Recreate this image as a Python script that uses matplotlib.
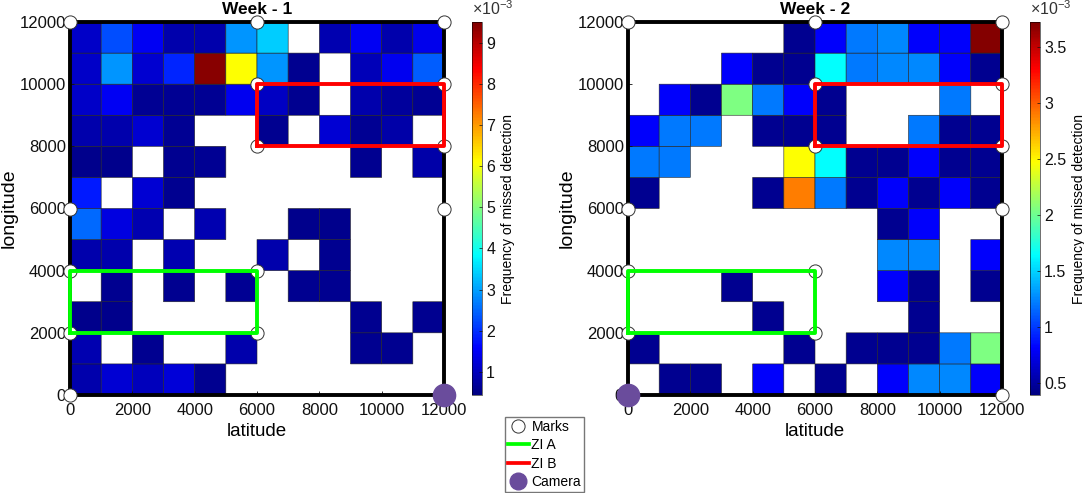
import numpy as np
import matplotlib
matplotlib.use('Agg')
import matplotlib.pyplot as plt
from matplotlib.colors import LinearSegmentedColormap
from matplotlib.lines import Line2D

plt.rcParams['font.family'] = ['Liberation Sans', 'DejaVu Sans']
plt.rcParams['mathtext.fontset'] = 'custom'
plt.rcParams['mathtext.rm'] = 'Liberation Sans'

n = np.nan

#Frequency of missed detection (x 1e-3), rows listed from the top of the map down
week1 = [
    [1.1, 2.25, 1.5, .85, .85, 2.9, 3.4, n, .9, 1.5, .85, 1.4],
    [1.1, 2.9, 1.15, 1.9, 9.4, 6.1, 2.9, .6, n, .95, 1.45, 2.4],
    [1.1, 1.5, .65, .65, .65, 1.45, 1.05, .6, n, .85, .7, .65],
    [.85, .85, 1.15, .65, n, n, .6, n, 1.2, .65, .8, n],
    [.55, .55, n, .6, .65, n, n, n, n, .6, n, .8],
    [1.8, n, 1.2, .6, n, n, n, n, n, n, n, n],
    [2.5, 1.3, .9, n, .9, n, n, .55, .55, n, n, n],
    [.85, .85, n, .9, n, n, .85, n, .6, n, n, n],
    [n, .6, n, .6, n, .65, n, .6, .6, n, n, n],
    [.55, .55, n, n, n, n, n, n, n, .6, n, .6],
    [.9, n, .6, n, n, .85, n, n, n, .6, .6, n],
    [.85, 1.2, 1.0, 1.25, .6, n, n, n, n, n, n, n],
]
week2 = [
    [n, n, n, n, n, .45, .8, 1.2, 1.25, .8, .8, 3.7],
    [n, n, n, .8, .45, .45, 1.65, 1.2, 1.25, 1.25, .8, .45],
    [n, .8, .45, 2.05, 1.2, .8, .45, n, n, n, 1.2, n],
    [.8, 1.2, 1.2, n, .45, .45, .45, n, n, 1.2, .45, .45],
    [1.2, 1.2, n, n, n, 2.47, 1.65, .45, .45, .8, .45, .45],
    [.45, n, n, n, .45, 2.9, 1.2, .45, .8, .45, .8, .45],
    [n, n, n, n, n, n, n, n, .45, .8, n, n],
    [n, n, n, n, n, n, n, n, 1.25, 1.25, n, .8],
    [n, n, n, .45, n, n, n, n, .8, .45, n, .45],
    [n, n, n, n, .45, n, n, n, n, .45, n, n],
    [.45, n, n, n, n, .45, n, .45, .45, .45, 1.2, 2.05],
    [n, .45, .45, n, .8, n, .45, n, .8, 1.25, 1.25, .8],
]

edges = np.arange(0, 13000, 1000)
axis_ticks = [0, 2000, 4000, 6000, 8000, 10000, 12000]

#Marks, the two zones and the camera
marks_x = [0, 0, 0, 0, 0, 6000, 6000, 6000, 6000, 6000, 12000, 12000, 12000, 12000, 12000]
marks_y = [0, 2000, 4000, 6000, 12000, 2000, 4000, 8000, 10000, 12000, 0, 6000, 8000, 10000, 12000]
zone_a_x = [0, 6000, 6000, 0, 0]
zone_a_y = [2000, 2000, 4000, 4000, 2000]
zone_b_x = [6000, 12000, 12000, 6000, 6000]
zone_b_y = [8000, 8000, 10000, 10000, 8000]
camera_week1 = (12000, 0)
camera_week2 = (0, 0)

ticks_week1 = [1, 2, 3, 4, 5, 6, 7, 8, 9]
ticks_week2 = [0.5, 1, 1.5, 2, 2.5, 3, 3.5]
tick_labels_week2 = ['0.5', '1', '1.5', '2', '2.5', '3', '3.5']

#MATLAB flavour of jet, pure yellow and cyan sit at the eighths
matlab_jet = LinearSegmentedColormap.from_list('matlab_jet', [
    (0, (0, 0, 0.5)), (1 / 8, (0, 0, 1)), (3 / 8, (0, 1, 1)),
    (5 / 8, (1, 1, 0)), (7 / 8, (1, 0, 0)), (1, (0.5, 0, 0))], N=256)

W = 1084
H = 493
fig = plt.figure(figsize=(W / 100, H / 100), dpi=100)


#Draw one week: heat map, marks, zones, camera and colorbar
def draw_week(values, title, left, cbar_left, vmin, vmax, camera, cticks, clabels):
    ax = fig.add_axes([left / W, 1 - 395 / H, 374 / W, 373 / H])
    data = np.ma.masked_invalid(np.array(values)[::-1])
    #pcolor leaves the empty cells out, so they get no outline
    mesh = ax.pcolor(edges, edges, data, cmap=matlab_jet, vmin=vmin, vmax=vmax,
                     edgecolors='#222222', linewidth=0.4)
    ax.set_xlim(0, 12000)
    ax.set_ylim(0, 12000)
    ax.set_xticks(axis_ticks)
    ax.set_yticks(axis_ticks)
    ax.tick_params(direction='in', length=3, width=0.6, labelsize=12, colors='#111111')
    ax.tick_params(axis='x', pad=6)
    ax.tick_params(axis='y', pad=3)
    ax.set_xlabel('latitude', fontsize=13.5, labelpad=3)
    ax.set_ylabel('longitude', fontsize=14, labelpad=1)
    ax.set_title(title, fontsize=12.5, fontweight='bold', pad=5.5)
    for side in ax.spines.values():
        side.set_linewidth(2.8)
        side.set_zorder(3)

    ax.plot(marks_x, marks_y, 'o', ms=9.5, mfc='white', mec='#333333', mew=0.7,
            ls='none', clip_on=False, zorder=4)
    ax.plot(zone_a_x, zone_a_y, color='#00ff00', lw=2.8, clip_on=False, zorder=5)
    ax.plot(zone_b_x, zone_b_y, color='#ff0000', lw=2.8, clip_on=False, zorder=5)
    ax.plot(camera[0], camera[1], 'o', ms=16, color='#6a4c9c', clip_on=False, zorder=6)

    cax = fig.add_axes([cbar_left / W, 1 - 395 / H, 10 / W, 373 / H])
    cbar = fig.colorbar(mesh, cax=cax)
    cbar.set_ticks(cticks)
    cbar.set_ticklabels(clabels)
    cbar.ax.tick_params(direction='in', length=2.5, width=0.5, labelsize=11.5, pad=3, colors='#111111')
    cbar.outline.set_linewidth(0.4)
    cbar.set_label('Frequency of missed detection', fontsize=10, labelpad=4)
    cax.text(0.0, 1.01, r'$\times\mathregular{10^{-3}}$', transform=cax.transAxes,
             fontsize=11.5, color='#333333', va='bottom', ha='left')


draw_week(week1, 'Week - 1', 70, 472, 0.44, 9.5, camera_week1, ticks_week1,
          [str(t) for t in ticks_week1])
draw_week(week2, 'Week - 2', 628, 1030, 0.39, 3.72, camera_week2, ticks_week2, tick_labels_week2)

#Shared legend under the two maps
handles = [
    Line2D([], [], marker='o', ls='none', ms=9.5, mfc='white', mec='#333333', mew=0.7),
    Line2D([], [], color='#00ff00', lw=2.7),
    Line2D([], [], color='#ff0000', lw=2.7),
    Line2D([], [], marker='o', ls='none', ms=12, color='#6a4c9c'),
]
fig.legend(handles, ['Marks', 'ZI A', 'ZI B', 'Camera'], loc='upper left',
           bbox_to_anchor=(505 / W, 1 - 417 / H), borderaxespad=0, fontsize=10,
           frameon=True, fancybox=False, edgecolor='#777777', framealpha=1,
           handlelength=1.5, handletextpad=0.2, labelspacing=0.32, borderpad=0.2)

fig.savefig('out.png', dpi=100)
